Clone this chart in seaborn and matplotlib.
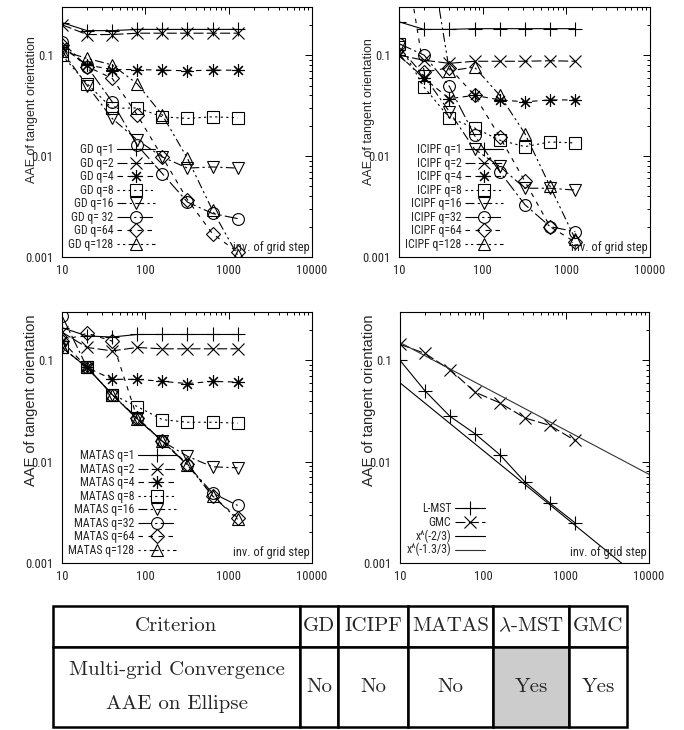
import matplotlib
matplotlib.use("Agg")
import matplotlib.pyplot as plt
import seaborn as sns
from matplotlib import font_manager as fm
from matplotlib.ticker import FixedLocator, FixedFormatter, LogLocator, NullFormatter

# ---------------- data ----------------
grid_inv = [10, 20, 40, 80, 160, 320, 640, 1280]

gd_labels = ["GD q=1", "GD q=2", "GD q=4", "GD q=8", "GD q=16", "GD q= 32", "GD q=64", "GD q=128"]
gd_q1 = [0.21, 0.175, 0.175, 0.18, 0.18, 0.18, 0.18, 0.18]
gd_q2 = [0.20, 0.16, 0.16, 0.165, 0.165, 0.165, 0.165, 0.165]
gd_q4 = [0.12, 0.08, 0.072, 0.072, 0.071, 0.07, 0.071, 0.071]
gd_q8 = [0.10, 0.052, 0.0297, 0.030, 0.0245, 0.0236, 0.0245, 0.024]
gd_q16 = [0.11, 0.05, 0.0236, 0.0144, 0.0098, 0.0076, 0.0078, 0.0076]
gd_q32 = [0.135, 0.077, 0.0345, 0.0128, 0.0067, 0.0035, 0.0027, 0.0024]
gd_q64 = [0.125, 0.077, 0.059, 0.0255, 0.0098, 0.0037, 0.0017, 0.00112]
gd_q128 = [0.11, 0.093, 0.08, 0.052, 0.0255, 0.0095, 0.0029, 0.00104]

icipf_labels = ["ICIPF q=1", "ICIPF q=2", "ICIPF q=4", "ICIPF q=8", "ICIPF q=16", "ICIPF q=32", "ICIPF q=64", "ICIPF q=128"]
icipf_q1 = [0.214, 0.18, 0.18, 0.183, 0.183, 0.183, 0.183, 0.183]
icipf_q2 = [0.10, 0.089, 0.083, 0.087, 0.087, 0.087, 0.088, 0.087]
icipf_q4 = [0.10, 0.059, 0.037, 0.040, 0.036, 0.0345, 0.036, 0.036]
icipf_q8 = [0.13, 0.048, 0.024, 0.019, 0.0144, 0.0124, 0.0138, 0.0135]
icipf_q16 = [0.12, 0.062, 0.0275, 0.0117, 0.0079, 0.0048, 0.0048, 0.0046]
icipf_q32 = [0.13, 0.10, 0.049, 0.016, 0.007, 0.0033, 0.002, 0.00178]
icipf_q64 = [2.3, 0.068, 0.075, 0.040, 0.0155, 0.0056, 0.002, 0.0014]
icipf_q128 = [3.0, 2.4, 0.07, 0.076, 0.040, 0.0167, 0.005, 0.0015]

matas_labels = ["MATAS q=1", "MATAS q=2", "MATAS q=4", "MATAS q=8", "MATAS q=16", "MATAS q=32", "MATAS q=64", "MATAS q=128"]
matas_q1 = [0.21, 0.174, 0.17, 0.18, 0.18, 0.18, 0.18, 0.18]
matas_q2 = [0.19, 0.134, 0.124, 0.134, 0.13, 0.13, 0.13, 0.13]
matas_q4 = [0.155, 0.085, 0.065, 0.065, 0.062, 0.059, 0.062, 0.061]
matas_q8 = [0.134, 0.085, 0.046, 0.035, 0.026, 0.0245, 0.0245, 0.024]
matas_q16 = [0.134, 0.085, 0.046, 0.027, 0.0159, 0.0113, 0.0089, 0.0087]
matas_q32 = [0.275, 0.085, 0.046, 0.0264, 0.0159, 0.0093, 0.0049, 0.0037]
matas_q64 = [0.155, 0.185, 0.155, 0.027, 0.016, 0.0095, 0.0046, 0.0028]
matas_q128 = [0.134, 0.085, 0.046, 0.0264, 0.0159, 0.0093, 0.0046, 0.0027]

lmst_label = "L-MST"
gmc_label = "GMC"
lmst = [0.10, 0.05, 0.028, 0.0189, 0.0117, 0.0063, 0.0039, 0.0025]
gmc = [0.144, 0.117, 0.081, 0.0486, 0.038, 0.027, 0.0228, 0.0162]
ref_labels = ["x^(-2/3)", "x^(-1.3/3)"]
ref_x = [10, 10000]
ref_23 = [0.06, 0.0006]      # lower reference line
ref_133 = [0.15, 0.0075]     # upper reference line

x_ticks = [10, 100, 1000, 10000]
x_tick_labels = ["10", "100", "1000", "10000"]
y_ticks = [0.001, 0.01, 0.1]
y_tick_labels = ["0.001", "0.01", "0.1"]
y_label = "AAE of tangent orientation"
x_note = "inv. of grid step"

table_header = ["Criterion", "GD", "ICIPF", "MATAS", r"$\lambda$-MST", "GMC"]
table_row = ["Multi-grid Convergence\nAAE on Ellipse", "No", "No", "No", "Yes", "Yes"]

# ---------------- styles ----------------
sns.set_style("white")
plt.rcParams["mathtext.fontset"] = "cm"
names = {f.name for f in fm.fontManager.ttflist}
narrow = next((n for n in ["Liberation Sans Narrow", "DejaVu Sans Condensed", "Roboto Condensed"]
               if n in names), "Liberation Sans")
plt.rcParams["font.family"] = [narrow, "DejaVu Sans"]

markers = ["+", "x", (8, 2, 0), "s", "v", "o", "D", "^"]
msizes = [10, 9, 9, 8, 8, 8.5, 7, 8.5]
lstyles = ["-", (0, (9, 3)), (0, (5, 4)), (0, (2, 3)), (0, (8, 3, 2, 3)),
           (0, (12, 3, 2, 3)), (0, (4, 5)), (0, (2, 3, 2, 3, 8, 3))]

fig = plt.figure(figsize=(6.84, 7.30), dpi=100)
W, H = 684.0, 730.0


def make_ax(l, t, r, b):
    return fig.add_axes([l / W, (H - b) / H, (r - l) / W, (b - t) / H])


def style_ax(ax, ylab_y, ylab_size):
    ax.set_xscale("log")
    ax.set_yscale("log")
    ax.set_xlim(10, 10000)
    ax.set_ylim(0.001, 0.3)
    ax.xaxis.set_major_locator(FixedLocator(x_ticks))
    ax.xaxis.set_major_formatter(FixedFormatter(x_tick_labels))
    ax.yaxis.set_major_locator(FixedLocator(y_ticks))
    ax.yaxis.set_major_formatter(FixedFormatter(y_tick_labels))
    ax.xaxis.set_minor_locator(LogLocator(base=10, subs=range(2, 10)))
    ax.yaxis.set_minor_locator(LogLocator(base=10, subs=range(2, 10)))
    ax.xaxis.set_minor_formatter(NullFormatter())
    ax.yaxis.set_minor_formatter(NullFormatter())
    ax.tick_params(which="both", direction="in", top=True, right=True, color="k", width=0.7)
    ax.tick_params(which="major", length=5)
    ax.tick_params(which="minor", length=2.5)
    ax.tick_params(axis="x", which="major", pad=5, labelsize=9)
    ax.tick_params(axis="y", which="major", pad=6, labelsize=9)
    for s in ax.spines.values():
        s.set_color("k")
        s.set_linewidth(0.8)
    ax.set_xlabel("")
    ax.set_ylabel(y_label, fontsize=ylab_size, family=["Liberation Sans", "DejaVu Sans"])
    ax.yaxis.set_label_coords(-0.095, ylab_y)
    ax.text(0.992, 0.014, x_note, transform=ax.transAxes, ha="right", va="bottom", fontsize=9)


def draw(ax, y, label, i, color="k", ls=None, marker="__idx__"):
    m = markers[i] if marker == "__idx__" else marker
    sns.lineplot(x=grid_inv if len(y) == len(grid_inv) else ref_x, y=y, ax=ax, color=color,
                 marker=m, linestyle=lstyles[i] if ls is None else ls,
                 markersize=msizes[i], markerfacecolor="none", markeredgecolor=color,
                 markeredgewidth=0.8, linewidth=0.8, label=label,
                 estimator=None, sort=False, errorbar=None)


def legend(ax, hl=3.2):
    h, l = ax.get_legend_handles_labels()
    ax.legend(h, l, loc="lower left", bbox_to_anchor=(0.0, 0.0), frameon=False,
              markerfirst=False, fontsize=8.5, handlelength=hl, handletextpad=0.3,
              handleheight=0.5, labelspacing=0.04, borderpad=0.25, borderaxespad=0.3)


ax1 = make_ax(62, 7, 312, 257)
for i, s in enumerate([gd_q1, gd_q2, gd_q4, gd_q8, gd_q16, gd_q32, gd_q64, gd_q128]):
    draw(ax1, s, gd_labels[i], i)
style_ax(ax1, 0.59, 9)
legend(ax1)

ax2 = make_ax(399, 7, 650, 257)
for i, s in enumerate([icipf_q1, icipf_q2, icipf_q4, icipf_q8, icipf_q16, icipf_q32, icipf_q64, icipf_q128]):
    draw(ax2, s, icipf_labels[i], i)
style_ax(ax2, 0.58, 9)
legend(ax2)

ax3 = make_ax(62, 312, 312, 563)
for i, s in enumerate([matas_q1, matas_q2, matas_q4, matas_q8, matas_q16, matas_q32, matas_q64, matas_q128]):
    draw(ax3, s, matas_labels[i], i)
style_ax(ax3, 0.65, 10.5)
legend(ax3)

ax4 = make_ax(400, 312, 649, 563)
draw(ax4, lmst, lmst_label, 0)
draw(ax4, gmc, gmc_label, 1)
draw(ax4, ref_23, ref_labels[0], 0, color="k", ls="-", marker=None)
draw(ax4, ref_133, ref_labels[1], 0, color="0.2", ls="-", marker=None)
style_ax(ax4, 0.65, 10.5)
legend(ax4, hl=2.6)

# ---------------- table ----------------
col_w = [247, 38, 70, 85, 76, 58]
tab_ax = fig.add_axes([53 / W, 3 / H, sum(col_w) / W, 121 / H])
tab_ax.set_axis_off()
tab = tab_ax.table(cellText=[table_header, table_row],
                   colWidths=[w / sum(col_w) for w in col_w],
                   cellLoc="center", bbox=[0, 0, 1, 1])
tab.auto_set_font_size(False)
tab.set_fontsize(15)
for (r, c), cell in tab.get_celld().items():
    cell.set_height(41 if r == 0 else 80)
    cell.set_edgecolor("k")
    cell.set_linewidth(1.8)
    t = cell.get_text()
    t.set_fontfamily(["cmr10", "DejaVu Serif"])
    t.set_linespacing(2.2)
    if r == 1 and c == 4:
        cell.set_facecolor("#cccccc")

fig.savefig("out.png", dpi=100)
